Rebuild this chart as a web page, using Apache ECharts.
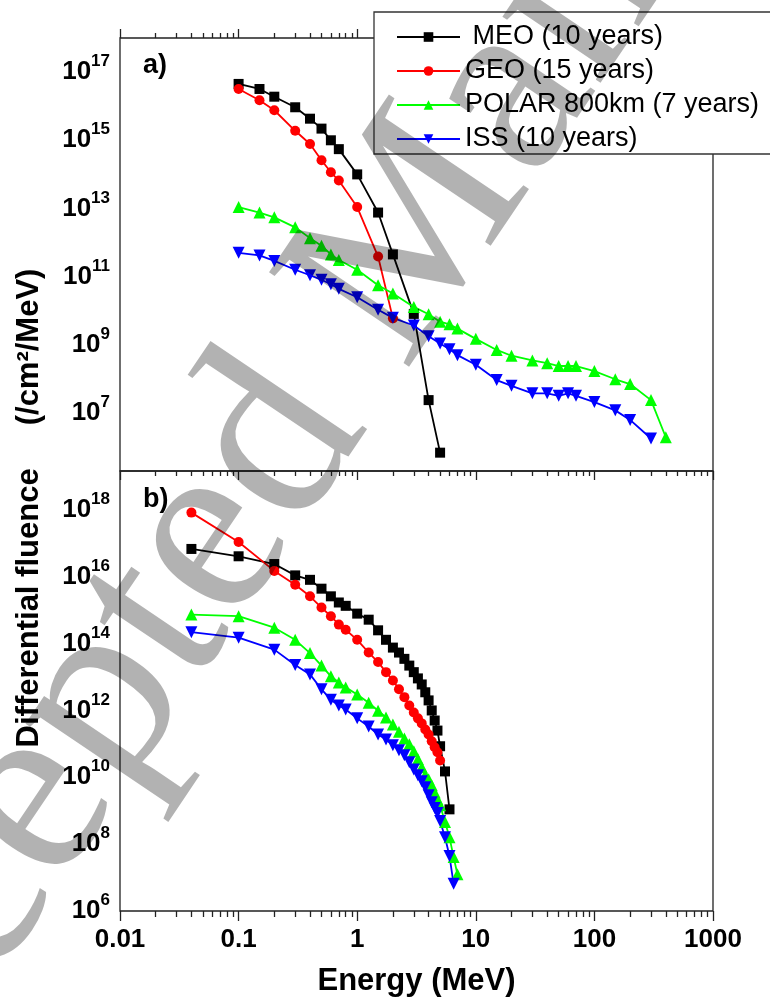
<!DOCTYPE html>
<html>
<head>
<meta charset="utf-8">
<script src="https://cdn.jsdelivr.net/npm/echarts@6/dist/echarts.min.js"></script>
<style>
html,body{margin:0;padding:0;background:#fff;}
#chart{width:770px;height:998px;}
</style>
</head>
<body>
<div id="chart"></div>
<script>
// ---------- data ----------
const seriesNames = [' MEO (10 years)', 'GEO (15 years)', 'POLAR 800km (7 years)', 'ISS (10 years)'];
const seriesColors = ['#000000', '#ff0000', '#00ff00', '#0000ff'];

// panel a) protons
const protonE = [0.1,0.15,0.2,0.3,0.4,0.5,0.6,0.7,1,1.5,2,3,4,5,6,7,10,15,20,30,40,50,60,70,100,150,200,300,400];
const meoA = [4.5e16,3.2e16,1.9e16,9.3e15,4.3e15,2.2e15,1.0e15,5.5e14,1.0e14,7.6e12,4.5e11,8.1e9,2.4e7,6.9e5];
const geoA = [3.2e16,1.5e16,7.6e15,1.9e15,7.8e14,2.6e14,1.15e14,6.6e13,1.1e13,3.9e11,6.0e9];
const polarA = [1.1e13,7.6e12,5.5e12,2.8e12,1.35e12,8.1e11,4.5e11,3.1e11,1.6e11,5.6e10,3.2e10,1.3e10,7.9e9,4.8e9,4.0e9,3.0e9,1.5e9,7.1e8,4.8e8,3.5e8,2.9e8,2.4e8,2.4e8,2.4e8,1.7e8,9.8e7,7.1e7,2.4e7,1.95e6];
const issA = [5.0e11,4.2e11,2.9e11,1.6e11,1.1e11,8.1e10,6.0e10,4.4e10,2.5e10,1.07e10,6.2e9,3.7e9,1.8e9,1.1e9,7.4e8,5.0e8,2.6e8,9.3e7,6.3e7,3.8e7,3.8e7,3.2e7,3.8e7,3.2e7,2.1e7,1.2e7,6.3e6,1.8e6];

// panel b) electrons
const electronE = [0.04,0.1,0.2,0.3,0.4,0.5,0.6,0.7,0.8,1,1.25,1.5,1.75,2,2.25,2.5,2.75,3,3.25,3.5,3.75,4,4.25,4.5,4.75,5,5.5,6,6.5,7];
const meoB = [6.8e16,4.1e16,2.4e16,1.1e16,8.1e15,4.4e15,2.6e15,1.7e15,1.35e15,7.9e14,5.2e14,2.5e14,1.3e14,7.6e13,5.4e13,3.5e13,2.2e13,1.4e13,9.1e12,6.0e12,3.5e12,2.0e12,1.0e12,5.0e11,2.5e11,8.5e10,1.5e10,1.1e9];
const geoB = [8.3e17,1.1e17,1.5e16,5.8e15,2.6e15,1.2e15,6.6e14,3.7e14,2.6e14,1.3e14,5.4e13,2.8e13,1.4e13,7.9e12,4.3e12,2.5e12,1.4e12,8.7e11,5.8e11,4.1e11,2.7e11,1.9e11,1.2e11,7.9e10,5.6e10,3.2e10];
const polarB = [7.4e14,6.6e14,3.0e14,1.3e14,5.2e13,2.2e13,1.05e13,6.9e12,4.9e12,3.0e12,1.7e12,9.8e11,6.2e11,3.8e11,2.3e11,1.45e11,9.8e10,6.0e10,3.5e10,2.0e10,1.2e10,8.7e9,5.8e9,3.5e9,2.2e9,1.45e9,4.6e8,1.6e8,4.1e7,1.26e7];
const issB = [2.2e14,1.5e14,6.6e13,2.3e13,1.2e13,4.3e12,2.1e12,1.4e12,1.07e12,5.8e11,3.3e11,1.9e11,1.35e11,9.1e10,6.5e10,4.6e10,2.8e10,1.7e10,1.15e10,7.6e9,5.0e9,2.9e9,1.8e9,1.2e9,8.5e8,4.9e8,1.6e8,4.4e7,6.5e6];

// axes ticks / labels
const xMajorTicks = [0.01,0.1,1,10,100,1000];
const xTickLabels = ['0.01','0.1','1','10','100','1000'];
const xMinorTicks = [0.02,0.03,0.04,0.05,0.06,0.07,0.08,0.09,
  0.2,0.3,0.4,0.5,0.6,0.7,0.8,0.9,
  2,3,4,5,6,7,8,9,
  20,30,40,50,60,70,80,90,
  200,300,400,500,600,700,800,900];
const yTicksA = [1e7,1e9,1e11,1e13,1e15,1e17];
const yTicksB = [1e6,1e8,1e10,1e12,1e14,1e16,1e18];
const xTitle = 'Energy (MeV)';
const yTitle = 'Differential fluence     (/cm\u00B2/MeV)';
const panelLabels = ['a)', 'b)'];
const watermark = 'Accepted Manuscript';

// ---------- chart ----------
const FONT = '"Liberation Sans", Arial, sans-serif';
const AX = '#222';
const zip = (xs, ys) => ys.map((v, i) => [xs[i], v]);

const xFmt = v => xTickLabels[Math.round(Math.log10(v)) + 2];
const yFmt = v => '{b|10}{s|' + Math.round(Math.log10(v)) + '}';
const yRich = {
  b: {fontFamily: FONT, fontWeight: 'bold', fontSize: 26, lineHeight: 26, color: '#000'},
  s: {fontFamily: FONT, fontWeight: 'bold', fontSize: 17, lineHeight: 17, color: '#000', padding: [0, 0, 21, 0]}
};

function xAxisDef(grid, pos, ticks, len, inside, labels) {
  return {
    type: 'log', logBase: 10, min: 0.01, max: 1000, gridIndex: grid, position: pos,
    axisLine: {show: false},
    axisTick: {show: true, inside: inside, length: len, customValues: ticks, lineStyle: {color: AX, width: 1.3}},
    axisLabel: labels ? {show: true, customValues: xMajorTicks, formatter: xFmt, margin: 16,
      fontFamily: FONT, fontWeight: 'bold', fontSize: 26, color: '#000'} : {show: false},
    splitLine: {show: false}, minorTick: {show: false}, minorSplitLine: {show: false}
  };
}

const xAxes = [
  xAxisDef(0, 'top', xMajorTicks, 9, false, false),
  xAxisDef(0, 'top', xMinorTicks, 5, false, false),
  xAxisDef(1, 'top', xMajorTicks, 9, true, false),
  xAxisDef(1, 'top', xMinorTicks, 5, true, false),
  xAxisDef(1, 'bottom', xMajorTicks, 10, false, true),
  xAxisDef(1, 'bottom', xMinorTicks, 6, false, false)
];
xAxes[4].name = xTitle;
xAxes[4].nameLocation = 'middle';
xAxes[4].nameGap = 55;
xAxes[4].nameTextStyle = {fontFamily: FONT, fontWeight: 'bold', fontSize: 31, color: '#000'};

function yAxisDef(grid, min, max, ticks) {
  return {
    type: 'log', logBase: 10, min: min, max: max, gridIndex: grid, position: 'left',
    axisLine: {show: false}, axisTick: {show: false},
    axisLabel: {show: true, customValues: ticks, formatter: yFmt, rich: yRich, margin: 10},
    splitLine: {show: false}, minorTick: {show: false}, minorSplitLine: {show: false}
  };
}

const symbols = ['rect', 'circle', 'triangle', 'triangle'];
const rotations = [0, 0, 0, 180];
const sizes = [10, 10, 12, 12];
function lineSeries(k, xIdx, yIdx, data) {
  return {
    name: seriesNames[k], type: 'line', xAxisIndex: xIdx, yAxisIndex: yIdx, data: data,
    symbol: symbols[k], symbolRotate: rotations[k], symbolSize: sizes[k], showSymbol: true,
    color: seriesColors[k],
    itemStyle: {color: seriesColors[k]},
    lineStyle: {color: seriesColors[k], width: 1.8},
    animation: false, z: 3
  };
}

const series = [
  lineSeries(0, 0, 0, zip(protonE, meoA)),
  lineSeries(1, 0, 0, zip(protonE, geoA)),
  lineSeries(2, 0, 0, zip(protonE, polarA)),
  lineSeries(3, 0, 0, zip(protonE, issA)),
  lineSeries(0, 4, 1, zip(electronE, meoB)),
  lineSeries(1, 4, 1, zip(electronE, geoB)),
  lineSeries(2, 4, 1, zip(electronE, polarB)),
  lineSeries(3, 4, 1, zip(electronE, issB))
];

const chart = echarts.init(document.getElementById('chart'), null, {renderer: 'canvas'});
chart.setOption({
  animation: false,
  backgroundColor: '#ffffff',
  grid: [
    {left: 120, top: 38, width: 593, height: 433, show: true, borderColor: AX, borderWidth: 1.3, backgroundColor: 'transparent'},
    {left: 120, top: 471, width: 593, height: 441, show: true, borderColor: AX, borderWidth: 1.3, backgroundColor: 'transparent'}
  ],
  xAxis: xAxes,
  yAxis: [
    yAxisDef(0, 2e5, 1e18, yTicksA),
    yAxisDef(1, 1e6, 1.46e19, yTicksB)
  ],
  legend: {
    orient: 'vertical', left: 374, top: 12, padding: [10, 40, 0, 22],
    itemWidth: 63, itemHeight: 12, itemGap: 4,
    backgroundColor: '#ffffff', borderColor: '#333', borderWidth: 1.3,
    textStyle: {fontFamily: FONT, fontSize: 27, color: '#000', lineHeight: 30},
    data: seriesNames, z: 10
  },
  series: series,
  graphic: [
    {type: 'text', x: 29, y: 508, rotation: Math.PI / 2, silent: true, z: 20,
      style: {text: yTitle, font: 'bold 31px ' + FONT, fill: '#000', align: 'center', verticalAlign: 'middle', textAlign: 'center', textVerticalAlign: 'middle'}},
    {type: 'text', x: 143, y: 66, silent: true, z: 20,
      style: {text: panelLabels[0], font: 'bold 27px ' + FONT, fill: '#000', align: 'left', verticalAlign: 'middle', textAlign: 'left', textVerticalAlign: 'middle'}},
    {type: 'text', x: 143, y: 500, silent: true, z: 20,
      style: {text: panelLabels[1], font: 'bold 27px ' + FONT, fill: '#000', align: 'left', verticalAlign: 'middle', textAlign: 'left', textVerticalAlign: 'middle'}},
    {type: 'text', x: -232, y: 1196, rotation: 56 * Math.PI / 180, silent: true, z: 100,
      style: {text: watermark, font: '258px "Liberation Serif", "Times New Roman", serif', fill: 'rgba(0,0,0,0.3)', align: 'left', verticalAlign: 'middle', textAlign: 'left', textVerticalAlign: 'middle'}}
  ]
});
</script>
</body>
</html>
